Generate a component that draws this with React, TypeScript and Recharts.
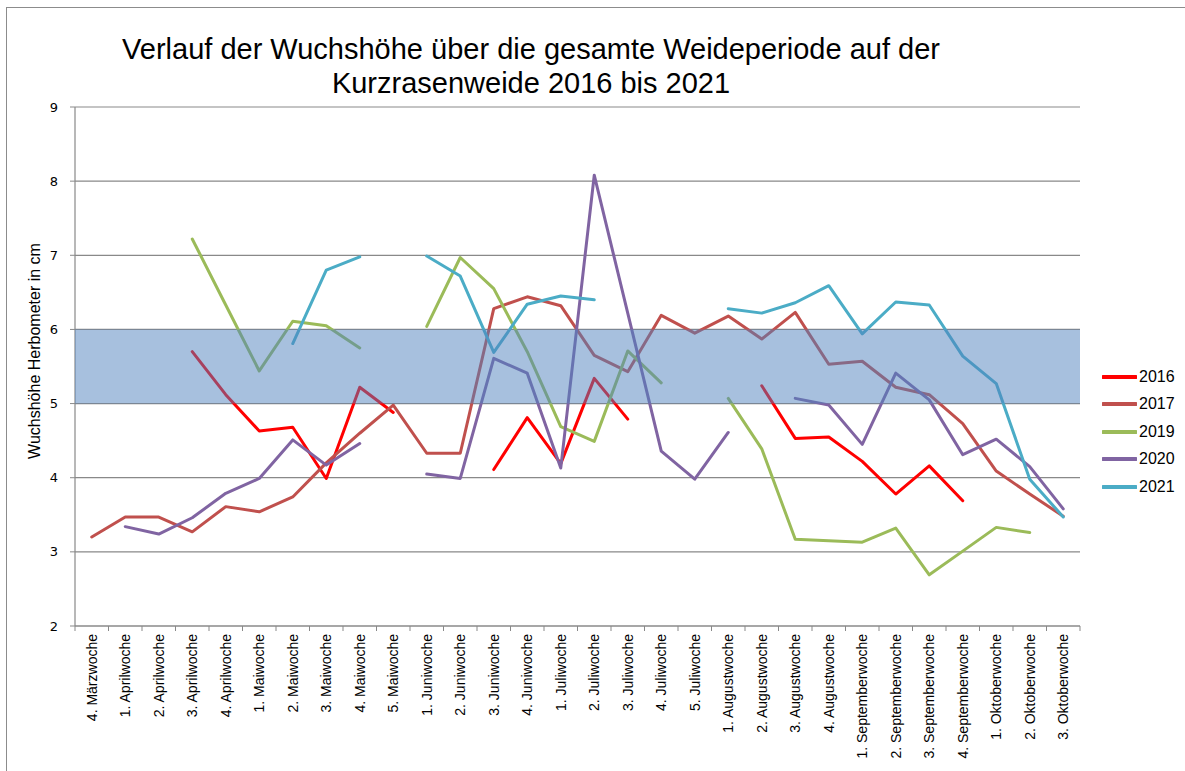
import React from 'react';
import { LineChart, Line, XAxis, YAxis, CartesianGrid, ReferenceArea, Legend } from 'recharts';

const categories = [
  '4. Märzwoche', '1. Aprilwoche', '2. Aprilwoche', '3. Aprilwoche', '4. Aprilwoche',
  '1. Maiwoche', '2. Maiwoche', '3. Maiwoche', '4. Maiwoche', '5. Maiwoche',
  '1. Juniwoche', '2. Juniwoche', '3. Juniwoche', '4. Juniwoche',
  '1. Juliwoche', '2. Juliwoche', '3. Juliwoche', '4. Juliwoche', '5. Juliwoche',
  '1. Augustwoche', '2. Augustwoche', '3. Augustwoche', '4. Augustwoche',
  '1. Septemberwoche', '2. Septemberwoche', '3. Septemberwoche', '4. Septemberwoche',
  '1. Oktoberwoche', '2. Oktoberwoche', '3. Oktoberwoche',
];

const v2016 = [null, null, null, 5.70, 5.12, 4.63, 4.68, 3.99, 5.22, 4.88, null, null, 4.11, 4.81, 4.19, 5.34, 4.79, null, null, null, 5.24, 4.53, 4.55, 4.22, 3.78, 4.16, 3.69, null, null, null];
const v2017 = [3.20, 3.47, 3.47, 3.27, 3.61, 3.54, 3.74, 4.20, 4.60, 4.98, 4.33, 4.33, 6.28, 6.44, 6.32, 5.65, 5.43, 6.19, 5.95, 6.18, 5.87, 6.23, 5.53, 5.57, 5.22, 5.12, 4.73, 4.09, 3.78, 3.48];
const v2019 = [null, null, null, 7.22, 6.33, 5.44, 6.11, 6.05, 5.75, null, 6.04, 6.97, 6.55, 5.70, 4.69, 4.49, 5.71, 5.28, null, 5.07, 4.39, 3.17, 3.15, 3.13, 3.32, 2.69, 3.01, 3.33, 3.26, null];
const v2020 = [null, 3.34, 3.24, 3.46, 3.79, 3.99, 4.51, 4.17, 4.46, null, 4.05, 3.99, 5.61, 5.41, 4.13, 8.08, 6.22, 4.36, 3.98, 4.61, null, 5.07, 4.98, 4.45, 5.41, 5.05, 4.31, 4.52, 4.15, 3.58];
const v2021 = [null, null, null, null, null, null, 5.81, 6.80, 6.98, null, 6.99, 6.72, 5.69, 6.34, 6.45, 6.40, null, null, null, 6.28, 6.22, 6.36, 6.59, 5.94, 6.37, 6.33, 5.64, 5.27, 3.98, 3.47];

const yTicks = [2, 3, 4, 5, 6, 7, 8, 9];
const bandLow = 5;
const bandHigh = 6;

const seriesNames = ['2016', '2017', '2019', '2020', '2021'];
const seriesValues = [v2016, v2017, v2019, v2020, v2021];
const seriesColors = ['#FF0000', '#C0504D', '#9BBB59', '#8064A2', '#4BACC6'];

const data = categories.map((week, i) => {
  const row: Record<string, any> = { week };
  seriesNames.forEach((name, s) => {
    row[name] = seriesValues[s][i];
  });
  return row;
});

const FONT = '"Liberation Sans", Arial, sans-serif';
const GRID = '#898989';

const XTick = (props: any) => {
  const { x, y, payload, index, visibleTicksCount } = props;
  const half = payload && typeof payload.offset === 'number' && payload.offset > 0 ? payload.offset : 16.75;
  const axisY = y - 8;
  const last = index === (visibleTicksCount ?? categories.length) - 1;
  return (
    <g>
      <line x1={x - half} x2={x - half} y1={axisY} y2={axisY + 5} stroke={GRID} strokeWidth={1} />
      {last && <line x1={x + half} x2={x + half} y1={axisY} y2={axisY + 5} stroke={GRID} strokeWidth={1} />}
      <text
        x={x}
        y={y}
        transform={`rotate(-90, ${x}, ${y})`}
        textAnchor="end"
        dy="0.35em"
        fontSize={14}
        fontFamily={FONT}
        fill="#000"
      >
        {payload.value}
      </text>
    </g>
  );
};

const YLabel = () => (
  <text
    x={34}
    y={351}
    transform="rotate(-90, 34, 351)"
    textAnchor="middle"
    dy="0.35em"
    fontSize={16}
    fontFamily={FONT}
    fill="#000"
  >
    Wuchshöhe Herbometer in cm
  </text>
);

const renderLegend = (props: any) => {
  const { payload } = props;
  return (
    <div style={{ fontFamily: FONT }}>
      {(payload || []).map((item: any) => (
        <div key={item.value} style={{ display: 'flex', alignItems: 'center', height: 27.5 }}>
          <svg width={35} height={6} style={{ display: 'block' }}>
            <line x1={1} x2={34} y1={3} y2={3} stroke={item.color} strokeWidth={4} strokeLinecap="round" />
          </svg>
          <span style={{ fontSize: 16, marginLeft: 2, color: '#000', lineHeight: '16px' }}>{item.value}</span>
        </div>
      ))}
    </div>
  );
};

export default function App() {
  return (
    <div style={{ position: 'absolute', left: 0, top: 0, width: 1185, height: 771, overflow: 'hidden', background: '#fff' }}>
      <div
        style={{
          position: 'absolute',
          left: 6,
          top: 7,
          width: 1300,
          height: 900,
          borderLeft: '1.5px solid #8c8c8c',
          borderTop: '1.5px solid #8c8c8c',
        }}
      />
      <div
        style={{
          position: 'absolute',
          left: 0,
          top: 32,
          width: 1062,
          textAlign: 'center',
          fontFamily: FONT,
          fontSize: 29,
          lineHeight: '34px',
          color: '#000',
          zIndex: 2,
        }}
      >
        Verlauf der Wuchshöhe über die gesamte Weideperiode auf der
        <br />
        Kurzrasenweide 2016 bis 2021
      </div>
      <LineChart
        width={1185}
        height={771}
        data={data}
        margin={{ top: 107, right: 105, bottom: 25, left: 0 }}
      >
        <CartesianGrid vertical={false} stroke={GRID} strokeWidth={1.2} />
        <XAxis
          dataKey="week"
          scale="band"
          interval={0}
          tickLine={false}
          tickSize={5}
          tickMargin={3}
          height={120}
          axisLine={{ stroke: GRID, strokeWidth: 1.2 }}
          tick={<XTick />}
        />
        <YAxis
          width={75}
          domain={[2, 9]}
          ticks={yTicks}
          interval={0}
          tickSize={5}
          tickMargin={12}
          tickLine={{ stroke: GRID }}
          axisLine={{ stroke: GRID, strokeWidth: 1.2 }}
          tick={{ fontSize: 13, fontFamily: '"DejaVu Sans", sans-serif', fill: '#000' }}
          label={{ content: () => <YLabel /> }}
        />
        {seriesNames.map((name, s) => (
          <Line
            key={name}
            type="linear"
            dataKey={name}
            name={name}
            stroke={seriesColors[s]}
            strokeWidth={3}
            strokeLinecap="round"
            strokeLinejoin="round"
            dot={false}
            activeDot={false}
            connectNulls={false}
            isAnimationActive={false}
          />
        ))}
        <ReferenceArea
          y1={bandLow}
          y2={bandHigh}
          fill="#4F81BD"
          fillOpacity={0.5}
          stroke="none"
          zIndex={1000}
        />
        <Legend
          layout="vertical"
          align="center"
          verticalAlign="middle"
          wrapperStyle={{ left: 1102, top: 363, width: 85 }}
          content={renderLegend}
        />
      </LineChart>
    </div>
  );
}
